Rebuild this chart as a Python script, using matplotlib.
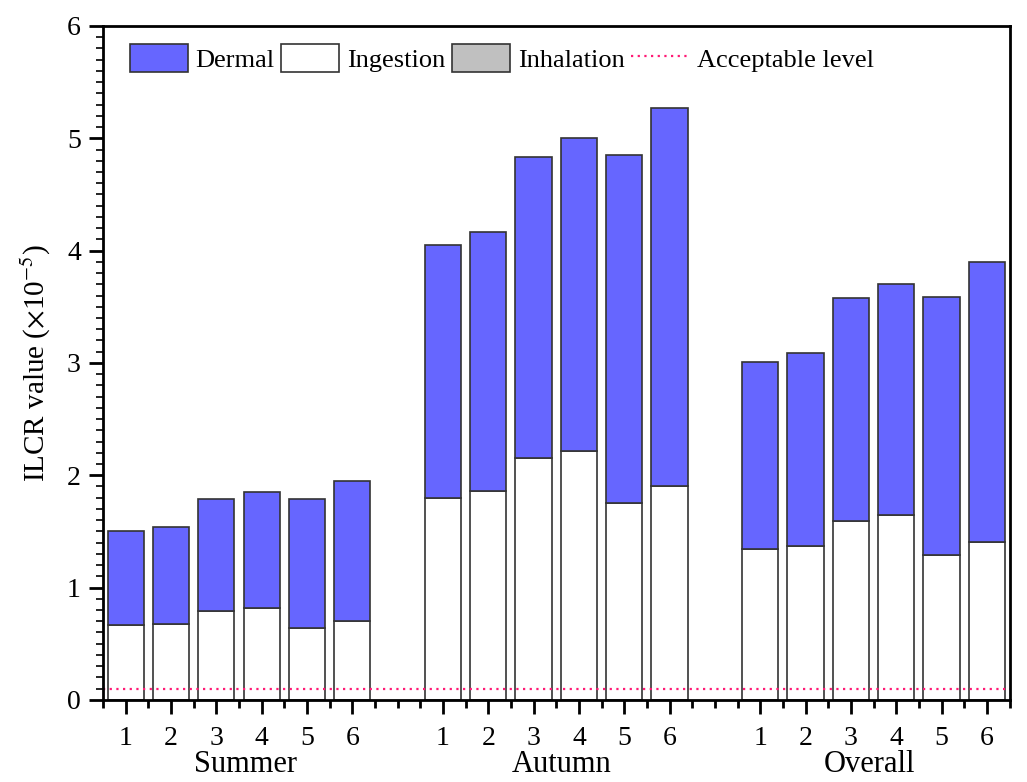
import matplotlib
matplotlib.use("Agg")
import matplotlib.pyplot as plt
from matplotlib.ticker import MultipleLocator
import numpy as np

plt.rcParams['font.family'] = ['Liberation Serif', 'DejaVu Serif']
plt.rcParams['mathtext.fontset'] = 'stix'

groups = ["Summer", "Autumn", "Overall"]
sites = ["1", "2", "3", "4", "5", "6"]

# ILCR values (x10^-5)
ingestion = {
    "Summer": [0.67, 0.68, 0.79, 0.82, 0.64, 0.70],
    "Autumn": [1.80, 1.86, 2.15, 2.22, 1.75, 1.90],
    "Overall": [1.34, 1.37, 1.59, 1.65, 1.29, 1.41],
}
inhalation = {
    "Summer": [0.0, 0.0, 0.0, 0.0, 0.0, 0.0],
    "Autumn": [0.0, 0.0, 0.0, 0.0, 0.0, 0.0],
    "Overall": [0.0, 0.0, 0.0, 0.0, 0.0, 0.0],
}
dermal = {
    "Summer": [0.83, 0.86, 1.00, 1.03, 1.15, 1.25],
    "Autumn": [2.25, 2.31, 2.68, 2.78, 3.10, 3.37],
    "Overall": [1.67, 1.72, 1.99, 2.05, 2.30, 2.49],
}
acceptable = 0.1

fig = plt.figure(figsize=(10.27, 7.82), dpi=100)
ax = fig.add_axes([0.1003, 0.105, 0.8827, 0.8618])

blue = '#6666ff'
w = 0.8
ticks = []
for gi, g in enumerate(groups):
    x = np.arange(1, 7) + gi * 7
    ticks += list(x)
    ing = np.array(ingestion[g])
    inh = np.array(inhalation[g])
    der = np.array(dermal[g])
    ax.bar(x, ing, w, color='white', edgecolor='#333333', linewidth=1.2,
           label='Ingestion' if gi == 0 else None)
    ax.bar(x, inh, w, bottom=ing, color='#c0c0c0', edgecolor='#333333', linewidth=0,
           label='Inhalation' if gi == 0 else None)
    ax.bar(x, der, w, bottom=ing + inh, color=blue, edgecolor='#333333', linewidth=1.2,
           label='Dermal' if gi == 0 else None)

ax.axhline(acceptable, color='#ff1a75', linestyle=(0, (1, 2)), linewidth=1.6,
           label='Acceptable level')

ax.set_xlim(0.5, 20.5)
ax.set_ylim(0, 6)
ax.set_xticks(ticks)
ax.set_xticklabels(sites * 3)
ax.xaxis.set_minor_locator(MultipleLocator(0.5))
ax.yaxis.set_major_locator(MultipleLocator(1))
ax.yaxis.set_minor_locator(MultipleLocator(0.1))
ax.tick_params(axis='x', which='major', length=10, width=2, labelsize=20, pad=9)
ax.tick_params(axis='x', which='minor', length=6, width=2)
ax.tick_params(axis='y', which='major', length=10, width=2, labelsize=20, pad=6)
ax.tick_params(axis='y', which='minor', length=5, width=1.2)
for s in ax.spines.values():
    s.set_linewidth(2)

ax.set_ylabel(r'ILCR value ($\times$10$^{-5}$)', fontsize=21, labelpad=10)

for g, xc in zip(groups, [3.65, 10.62, 17.41]):
    ax.text(xc, -0.575, g, ha='center', va='center', fontsize=22)

h, l = ax.get_legend_handles_labels()
order = [l.index(n) for n in ['Dermal', 'Ingestion', 'Inhalation', 'Acceptable level']]
leg = ax.legend([h[i] for i in order], [l[i] for i in order], loc='upper left',
                ncol=4, frameon=False, fontsize=19, handlelength=2.2, handleheight=1.25,
                handletextpad=0.3, columnspacing=0.25, borderaxespad=0.3,
                bbox_to_anchor=(0.009, 1.0))
for p in leg.get_patches():
    p.set_edgecolor('#333333')
    p.set_linewidth(1.2)

fig.savefig('out.png', dpi=100)
